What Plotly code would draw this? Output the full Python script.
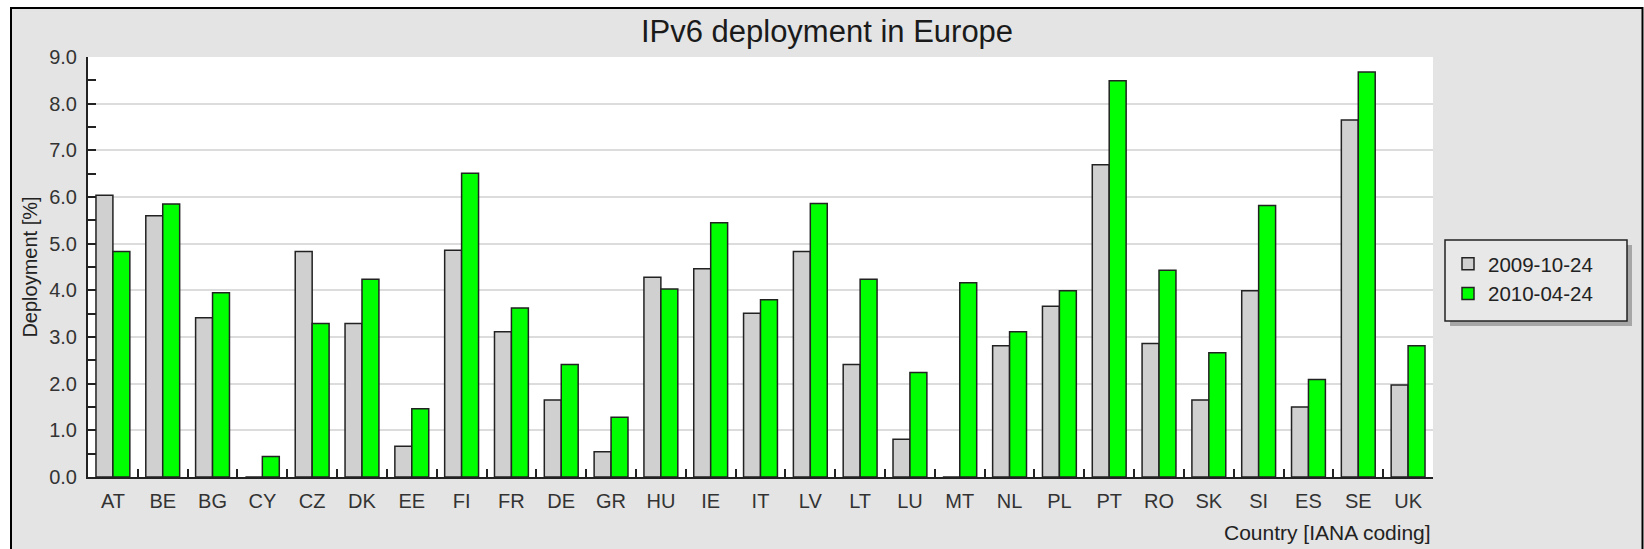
import plotly.graph_objects as go

countries = ["AT", "BE", "BG", "CY", "CZ", "DK", "EE", "FI", "FR", "DE", "GR", "HU", "IE", "IT",
             "LV", "LT", "LU", "MT", "NL", "PL", "PT", "RO", "SK", "SI", "ES", "SE", "UK"]
deploy_2009_10_24 = [6.04, 5.60, 3.41, 0.0, 4.83, 3.29, 0.66, 4.86, 3.11, 1.65, 0.54, 4.28, 4.46, 3.51,
                     4.83, 2.41, 0.81, 0.0, 2.81, 3.66, 6.69, 2.86, 1.65, 3.99, 1.50, 7.65, 1.97]
deploy_2010_04_24 = [4.83, 5.85, 3.95, 0.44, 3.29, 4.24, 1.46, 6.51, 3.62, 2.41, 1.28, 4.03, 5.45, 3.80,
                     5.86, 4.24, 2.24, 4.16, 3.11, 3.99, 8.49, 4.43, 2.66, 5.82, 2.09, 8.68, 2.81]
series_names = ["2009-10-24", "2010-04-24"]
y_ticks = [0, 1, 2, 3, 4, 5, 6, 7, 8, 9]

FONT = "Liberation Sans, Arial, sans-serif"
W, H = 1644, 549
L, R, T, B = 88, 211, 57, 72
pw, ph = W - L - R, H - T - B

def px_x(p):
    return (p - L) / pw

def px_y(p):
    return (H - B - p) / ph

fig = go.Figure()
fig.add_trace(go.Bar(x=countries, y=deploy_2009_10_24, name=series_names[0],
                     marker=dict(color="#d0d0d0", line=dict(color="#222222", width=1.5))))
fig.add_trace(go.Bar(x=countries, y=deploy_2010_04_24, name=series_names[1],
                     marker=dict(color="#00ff00", line=dict(color="#222222", width=1.5))))

shapes = [
    # outer chart frame
    dict(type="rect", xref="paper", yref="paper", layer="below",
         x0=px_x(11), x1=px_x(1642.5), y0=px_y(600), y1=px_y(8),
         fillcolor="#e4e4e4", line=dict(color="black", width=2)),
    # white plotting area
    dict(type="rect", xref="paper", yref="paper", layer="below",
         x0=0, x1=1, y0=0, y1=1, fillcolor="white", line=dict(width=0)),
    # legend shadow
    dict(type="rect", xref="paper", yref="paper", layer="below",
         x0=px_x(1450), x1=px_x(1632), y0=px_y(326), y1=px_y(245),
         fillcolor="#a6a6a6", line=dict(width=0)),
    # legend box
    dict(type="rect", xref="paper", yref="paper", layer="below",
         x0=px_x(1445), x1=px_x(1627), y0=px_y(321), y1=px_y(240),
         fillcolor="#e8e8e8", line=dict(color="#222222", width=1.5)),
]

fig.update_layout(
    width=W, height=H,
    margin=dict(l=L, r=R, t=T, b=B, autoexpand=False),
    paper_bgcolor="white",
    plot_bgcolor="white",
    font=dict(family=FONT, size=20, color="#333333"),
    title=dict(text="IPv6 deployment in Europe", x=827 / W, xanchor="center",
               y=1 - 31 / H, yanchor="middle",
               font=dict(family=FONT, size=31, color="#1a1a1a")),
    barmode="group", bargap=0.32, bargroupgap=0.0,
    showlegend=True,
    legend=dict(x=px_x(1448), y=px_y(244), xanchor="left", yanchor="top",
                bgcolor="rgba(0,0,0,0)", borderwidth=0,
                font=dict(family=FONT, size=20.5, color="#222222")),
    shapes=shapes,
    annotations=[dict(text="Country [IANA coding]", xref="paper", yref="paper",
                      x=1, y=0, xanchor="right", yanchor="top", yshift=-42, showarrow=False,
                      font=dict(family=FONT, size=21, color="#222222"))],
    xaxis=dict(type="category", showline=True, linecolor="#222222", linewidth=2,
               ticks="inside", tickson="boundaries", ticklen=8, tickwidth=1.5, tickcolor="#222222",
               showgrid=False, zeroline=False, ticklabelstandoff=5,
               tickfont=dict(family=FONT, size=20, color="#333333")),
    yaxis=dict(range=[0, 9], tickvals=y_ticks, tickformat=".1f", showline=True,
               linecolor="#222222", linewidth=2, ticks="inside", ticklen=8, tickwidth=1.5,
               tickcolor="#222222", showgrid=True, gridcolor="#dcdcdc", gridwidth=1.5,
               zeroline=False, ticklabelstandoff=5,
               minor=dict(dtick=0.5, ticks="inside", ticklen=8, tickwidth=1.5,
                          tickcolor="#222222", showgrid=False),
               title=dict(text="Deployment [%]", standoff=6,
                          font=dict(family=FONT, size=20, color="#222222")),
               tickfont=dict(family=FONT, size=20, color="#333333")),
)

fig.write_html("out.html", config={"displayModeBar": False},
               post_script="document.body.style.margin='0px';")
